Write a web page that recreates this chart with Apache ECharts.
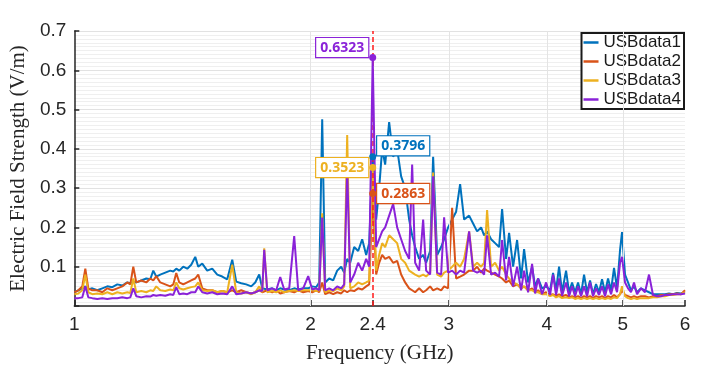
<!DOCTYPE html>
<html>
<head>
<meta charset="utf-8">
<script src="https://cdn.jsdelivr.net/npm/echarts@6/dist/echarts.min.js"></script>
<style>
  html, body { margin: 0; padding: 0; background: #fff; }
  #chart { width: 703px; height: 377px; }
</style>
</head>
<body>
<div id="chart"></div>
<script>
// frequency grid (GHz)
var freq = [
  1.000, 1.0118, 1.0237, 1.0328, 1.0419, 1.0542, 1.0698, 1.0856, 1.1016, 1.1179,
  1.1344, 1.1511, 1.1682, 1.1785, 1.1889, 1.1994, 1.2171, 1.2351, 1.2497, 1.2607,
  1.2718, 1.2868, 1.3059, 1.3251, 1.3369, 1.3487, 1.3606, 1.3766, 1.3929, 1.4093,
  1.4259, 1.4385, 1.4555, 1.4770, 1.4988, 1.5210, 1.5434, 1.5662, 1.5894, 1.6081,
  1.6319, 1.6560, 1.6805, 1.7003, 1.7203, 1.7356, 1.7458, 1.7612, 1.7872, 1.8083,
  1.8297, 1.8512, 1.8786, 1.9063, 1.9288, 1.9573, 1.9862,
  2.0097, 2.0334, 2.0514, 2.0695, 2.0878, 2.1124, 2.1373, 2.1625, 2.1881, 2.2074,
  2.2269, 2.2466, 2.2731, 2.2999, 2.3270, 2.3545, 2.3753, 2.4, 2.4245, 2.4459,
  2.4675, 2.4893, 2.5187, 2.5484, 2.5785, 2.6089, 2.6397, 2.6709, 2.6945, 2.7183,
  2.7504, 2.7828, 2.8074, 2.8405, 2.8656, 2.8994, 2.9336, 2.9595, 2.9944, 3.0298,
  3.0655, 3.1017, 3.1383, 3.1847,
  3.2222, 3.2603, 3.2987, 3.3279, 3.3573, 3.3969, 3.4370, 3.4776, 3.5083, 3.5497,
  3.5811, 3.6233, 3.6661, 3.7093, 3.7421, 3.7863, 3.8309, 3.8648, 3.8989, 3.9449,
  3.9915, 4.0386, 4.0742, 4.1102, 4.1465, 4.1831, 4.2325, 4.2699, 4.3076, 4.3457,
  4.3841, 4.4228, 4.4619, 4.5013, 4.5411, 4.5812, 4.6217, 4.6625, 4.7037, 4.7453,
  4.7872, 4.8295, 4.8722, 4.9152, 4.9586, 4.9878, 5.0318, 5.0763, 5.1211, 5.1664,
  5.2120, 5.2735, 5.3357, 5.3987, 5.4624, 5.5268, 5.5920, 5.6580, 5.7248, 5.7923,
  5.8607, 5.9298, 6.0
];

var usb1 = [
  0.035, 0.04, 0.045, 0.05, 0.042, 0.045, 0.04, 0.045, 0.05, 0.048,
  0.055, 0.052, 0.06, 0.058, 0.062, 0.06, 0.065, 0.07, 0.068, 0.09,
  0.075, 0.08, 0.085, 0.09, 0.088, 0.095, 0.09, 0.1, 0.095, 0.105,
  0.125, 0.1, 0.108, 0.09, 0.095, 0.08, 0.075, 0.068, 0.118, 0.062,
  0.058, 0.055, 0.05, 0.06, 0.08, 0.045, 0.045, 0.042, 0.045, 0.04,
  0.045, 0.042, 0.04, 0.045, 0.042, 0.045, 0.045,
  0.05, 0.048, 0.06, 0.475, 0.06, 0.07, 0.065, 0.09, 0.1, 0.085,
  0.12, 0.11, 0.15, 0.14, 0.17, 0.13, 0.16, 0.3796, 0.22, 0.3,
  0.4, 0.36, 0.468, 0.38, 0.4, 0.33, 0.3, 0.22, 0.18, 0.15,
  0.12, 0.13, 0.11, 0.14, 0.38, 0.13, 0.15, 0.17, 0.2, 0.22,
  0.24, 0.31, 0.22, 0.23,
  0.21, 0.19, 0.2, 0.18, 0.19, 0.17, 0.16, 0.15, 0.247, 0.12,
  0.186, 0.1, 0.168, 0.07, 0.145, 0.06, 0.1, 0.05, 0.07, 0.045,
  0.05, 0.04, 0.084, 0.04, 0.1, 0.035, 0.09, 0.035, 0.06, 0.035,
  0.06, 0.03, 0.08, 0.035, 0.065, 0.03, 0.056, 0.035, 0.068, 0.035,
  0.07, 0.04, 0.097, 0.045, 0.142, 0.188, 0.08, 0.06, 0.04, 0.05,
  0.035, 0.045, 0.04, 0.035, 0.03, 0.03, 0.03, 0.03, 0.032, 0.03,
  0.033, 0.032, 0.035
];

var usb2 = [
  0.035, 0.04, 0.05, 0.095, 0.045, 0.04, 0.04, 0.035, 0.045, 0.04,
  0.045, 0.05, 0.06, 0.055, 0.1, 0.06, 0.065, 0.06, 0.07, 0.065,
  0.076, 0.06, 0.055, 0.05, 0.055, 0.084, 0.06, 0.055, 0.06, 0.065,
  0.07, 0.08, 0.045, 0.04, 0.04, 0.035, 0.038, 0.035, 0.04, 0.035,
  0.04, 0.035, 0.032, 0.035, 0.04, 0.035, 0.038, 0.04, 0.035, 0.04,
  0.032, 0.035, 0.038, 0.035, 0.04, 0.035, 0.038,
  0.035, 0.04, 0.035, 0.06, 0.03, 0.035, 0.03, 0.035, 0.032, 0.04,
  0.035, 0.04, 0.038, 0.045, 0.042, 0.05, 0.055, 0.2863, 0.08, 0.11,
  0.13, 0.12, 0.125, 0.11, 0.115, 0.08, 0.06, 0.045, 0.04, 0.035,
  0.045, 0.035, 0.04, 0.05, 0.04, 0.045, 0.04, 0.05, 0.045, 0.25,
  0.07, 0.075, 0.08, 0.09,
  0.09, 0.1, 0.085, 0.095, 0.09, 0.085, 0.08, 0.075, 0.07, 0.06,
  0.065, 0.05, 0.055, 0.045, 0.05, 0.04, 0.045, 0.035, 0.04, 0.03,
  0.035, 0.028, 0.03, 0.025, 0.03, 0.025, 0.028, 0.022, 0.025, 0.022,
  0.025, 0.02, 0.025, 0.022, 0.025, 0.02, 0.025, 0.022, 0.025, 0.02,
  0.025, 0.022, 0.028, 0.022, 0.03, 0.04, 0.028, 0.025, 0.022, 0.025,
  0.022, 0.025, 0.025, 0.022, 0.025, 0.025, 0.028, 0.028, 0.03, 0.03,
  0.032, 0.03, 0.04
];

var usb3 = [
  0.03, 0.032, 0.04, 0.08, 0.035, 0.03, 0.032, 0.03, 0.035, 0.03,
  0.035, 0.032, 0.035, 0.033, 0.07, 0.035, 0.038, 0.035, 0.04, 0.038,
  0.05, 0.04, 0.038, 0.042, 0.04, 0.06, 0.045, 0.042, 0.045, 0.048,
  0.05, 0.06, 0.04, 0.038, 0.04, 0.035, 0.038, 0.035, 0.105, 0.035,
  0.032, 0.035, 0.03, 0.035, 0.05, 0.035, 0.147, 0.035, 0.038, 0.035,
  0.04, 0.035, 0.038, 0.04, 0.038, 0.04, 0.04,
  0.04, 0.038, 0.04, 0.236, 0.035, 0.04, 0.038, 0.045, 0.04, 0.05,
  0.435, 0.045, 0.05, 0.06, 0.055, 0.06, 0.065, 0.3523, 0.09, 0.13,
  0.16, 0.15, 0.18, 0.17, 0.16, 0.12, 0.11, 0.09, 0.085, 0.08,
  0.075, 0.08, 0.075, 0.085, 0.34, 0.08, 0.075, 0.085, 0.09, 0.1,
  0.11, 0.1, 0.12, 0.19,
  0.1, 0.11, 0.1, 0.11, 0.244, 0.1, 0.11, 0.09, 0.1, 0.08,
  0.07, 0.06, 0.055, 0.045, 0.05, 0.04, 0.04, 0.035, 0.035, 0.03,
  0.03, 0.025, 0.028, 0.022, 0.025, 0.02, 0.022, 0.02, 0.022, 0.018,
  0.02, 0.018, 0.02, 0.018, 0.02, 0.018, 0.02, 0.018, 0.02, 0.018,
  0.02, 0.018, 0.022, 0.02, 0.03, 0.05, 0.025, 0.02, 0.018, 0.02,
  0.018, 0.02, 0.02, 0.02, 0.022, 0.022, 0.025, 0.025, 0.028, 0.028,
  0.03, 0.03, 0.035
];

var usb4 = [
  0.02, 0.02, 0.022, 0.05, 0.022, 0.02, 0.018, 0.02, 0.018, 0.02,
  0.02, 0.022, 0.02, 0.022, 0.045, 0.025, 0.022, 0.025, 0.024, 0.028,
  0.026, 0.028, 0.026, 0.03, 0.028, 0.048, 0.03, 0.032, 0.03, 0.035,
  0.035, 0.05, 0.035, 0.032, 0.035, 0.03, 0.032, 0.03, 0.05, 0.03,
  0.032, 0.035, 0.032, 0.035, 0.04, 0.038, 0.143, 0.04, 0.045, 0.04,
  0.074, 0.042, 0.045, 0.178, 0.04, 0.045, 0.076,
  0.042, 0.045, 0.04, 0.225, 0.04, 0.045, 0.04, 0.05, 0.045, 0.055,
  0.35, 0.06, 0.08, 0.11, 0.09, 0.12, 0.1, 0.6323, 0.15, 0.17,
  0.19, 0.2, 0.23, 0.26, 0.2, 0.17, 0.14, 0.12, 0.36, 0.11,
  0.09, 0.22, 0.09, 0.08, 0.33, 0.085, 0.08, 0.226, 0.085, 0.09,
  0.08, 0.09, 0.085, 0.19,
  0.09, 0.085, 0.09, 0.08, 0.18, 0.08, 0.085, 0.075, 0.168, 0.065,
  0.125, 0.05, 0.1, 0.04, 0.09, 0.035, 0.107, 0.032, 0.07, 0.03,
  0.06, 0.028, 0.08, 0.028, 0.07, 0.026, 0.06, 0.025, 0.05, 0.025,
  0.05, 0.025, 0.05, 0.025, 0.06, 0.025, 0.045, 0.028, 0.05, 0.025,
  0.055, 0.03, 0.06, 0.035, 0.11, 0.125, 0.06, 0.045, 0.035, 0.06,
  0.03, 0.045, 0.035, 0.08, 0.028, 0.025, 0.025, 0.028, 0.028, 0.03,
  0.03, 0.03, 0.032
];

var seriesNames = ['USBdata1', 'USBdata2', 'USBdata3', 'USBdata4'];
var xTicks = [1, 2, 2.4, 3, 4, 5, 6];
var xGrid = [2, 3, 4, 5];
var markFreq = 2.4;
var markVals = [0.3796, 0.2863, 0.3523, 0.6323];

var colors = ['#0072BD', '#D95319', '#EDB120', '#8A22D8'];
var lines = [usb1, usb2, usb3, usb4];
// label placement of the 2.4 GHz data tips
var tipPlace = [
  { position: 'right', offset: [0, -11] },
  { position: 'right', offset: [0, 0] },
  { position: 'left', offset: [0, 0] },
  { position: 'left', offset: [0, -10] }
];

var series = [];
// vertical grid lines (under everything)
series.push({
  type: 'line', name: 'vgrid', data: [], z: 1, silent: true,
  markLine: {
    silent: true, symbol: 'none', label: { show: false },
    lineStyle: { color: '#e4e4e4', width: 1, type: 'solid' },
    data: xGrid.map(function (v) { return { xAxis: v }; })
  }
});
lines.forEach(function (ys, i) {
  series.push({
    type: 'line', name: seriesNames[i],
    data: freq.map(function (f, k) { return [f, ys[k]]; }),
    showSymbol: false, z: 2 + i,
    lineStyle: { width: 2, color: colors[i] },
    itemStyle: { color: colors[i] }
  });
});
// red dashed marker line at 2.4 GHz
series.push({
  type: 'line', name: 'cursor', data: [], z: 8, silent: true,
  markLine: {
    silent: true, symbol: 'none', label: { show: false },
    lineStyle: { color: '#ff1a1a', width: 1.5, type: [5, 3] },
    data: [{ xAxis: markFreq }]
  }
});
markVals.forEach(function (v, i) {
  series.push({
    type: 'scatter', name: 'tip' + (i + 1), z: 10,
    data: [[markFreq, v]],
    symbolSize: 7,
    itemStyle: { color: colors[i], opacity: 1 },
    label: {
      show: true,
      position: tipPlace[i].position,
      offset: tipPlace[i].offset,
      distance: 1,
      formatter: function (p) { return p.value[1].toFixed(4); },
      color: colors[i],
      opacity: 1,
      textBorderWidth: 0,
      fontFamily: 'Noto Sans',
      fontWeight: 'bold',
      fontSize: 14,
      lineHeight: 16,
      backgroundColor: '#fff',
      borderColor: colors[i],
      borderWidth: 1.2,
      padding: [2, 4, 1, 4]
    }
  });
});

var chart = echarts.init(document.getElementById('chart'));
chart.setOption({
  animation: false,
  backgroundColor: '#fff',
  color: colors,
  grid: { left: 74, right: 18, top: 31, bottom: 71 },
  legend: {
    data: seriesNames,
    orient: 'vertical',
    right: 19, top: 33,
    backgroundColor: '#fff',
    borderColor: '#1a1a1a', borderWidth: 2,
    padding: [1, 3, 1, 2],
    itemGap: 2,
    itemWidth: 15, itemHeight: 2.5,
    icon: 'rect',
    textStyle: { fontFamily: 'Liberation Sans', fontSize: 17, color: '#1a1a1a' }
  },
  xAxis: {
    type: 'log', logBase: 10, min: 1, max: 6,
    name: 'Frequency (GHz)', nameLocation: 'middle', nameGap: 37,
    nameTextStyle: { fontFamily: 'Liberation Serif', fontSize: 21, color: '#262626' },
    axisLine: { lineStyle: { color: '#262626', width: 1.5 } },
    axisTick: { inside: true, length: 6, customValues: xTicks, lineStyle: { color: '#262626', width: 1.5 } },
    axisLabel: {
      customValues: xTicks, margin: 9,
      fontFamily: 'Liberation Sans', fontSize: 19, color: '#262626',
      formatter: function (v) { return String(+Number(v).toFixed(2)); }
    },
    splitLine: { show: false },
    minorTick: { show: false },
    minorSplitLine: { show: false }
  },
  yAxis: {
    type: 'value', min: 0, max: 0.7, interval: 0.1,
    name: 'Electric Field Strength (V/m)', nameLocation: 'middle', nameGap: 33,
    nameTextStyle: { fontFamily: 'Liberation Serif', fontSize: 21, color: '#262626' },
    axisLine: { show: true, lineStyle: { color: '#262626', width: 1.5 } },
    axisTick: { show: true, inside: true, length: 5, lineStyle: { color: '#262626', width: 1.5 } },
    axisLabel: {
      margin: 8, fontFamily: 'Liberation Sans', fontSize: 19, color: '#262626',
      formatter: function (v) { return v === 0 ? '' : v.toFixed(1); }
    },
    splitLine: { show: true, lineStyle: { color: '#e2e2e2', width: 1 } },
    minorTick: { show: false, splitNumber: 10 },
    minorSplitLine: { show: true, lineStyle: { color: '#efefef', width: 1 } }
  },
  series: series
});
</script>
</body>
</html>
